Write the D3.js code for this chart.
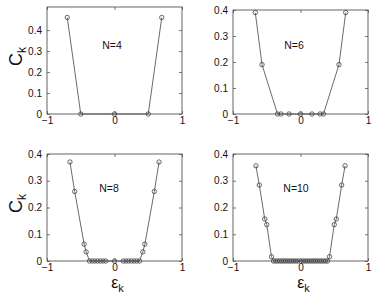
<!DOCTYPE html>
<html lang="en">
<head>
<meta charset="UTF-8">
<title>C_k vs epsilon_k</title>
<script src="https://cdn.jsdelivr.net/npm/d3@7"></script>
<style>
    html, body { margin: 0; padding: 0; background: #fff; }
    svg { display: block; font-family: 'Liberation Sans', Arial, sans-serif; }
</style>
</head>
<body>
<div id="chart"></div>
<script>
    // data
    const epsN4 = [-0.70, -0.50, 0, 0.50, 0.70];
    const ckN4 = [0.46, 0, 0, 0, 0.46];

    const epsN6 = [-0.67, -0.57, -0.34, -0.29, -0.17, 0, 0.17, 0.29, 0.34, 0.57, 0.67];
    const ckN6 = [0.39, 0.19, 0, 0, 0, 0, 0, 0, 0, 0.19, 0.39];

    const epsN8 = [-0.66, -0.59, -0.45, -0.42, -0.37, -0.33, -0.29, -0.25, -0.21, -0.17, -0.13, 0,
                   0.13, 0.17, 0.21, 0.25, 0.29, 0.33, 0.37, 0.42, 0.45, 0.59, 0.66];
    const ckN8 = [0.37, 0.26, 0.063, 0.034, 0, 0, 0, 0, 0, 0, 0, 0,
                  0, 0, 0, 0, 0, 0, 0, 0.034, 0.063, 0.26, 0.37];

    const epsN10 = [-0.66, -0.61, -0.53, -0.50, -0.43, -0.40, -0.37, -0.34, -0.31, -0.28, -0.25, -0.22,
                    -0.19, -0.16, -0.13, -0.10, -0.07, -0.04, 0, 0.04, 0.07, 0.10, 0.13, 0.16, 0.19,
                    0.22, 0.25, 0.28, 0.31, 0.34, 0.37, 0.40, 0.43, 0.50, 0.53, 0.61, 0.66];
    const ckN10 = [0.356, 0.284, 0.157, 0.136, 0.016, 0, 0, 0, 0, 0, 0, 0,
                   0, 0, 0, 0, 0, 0, 0, 0, 0, 0, 0, 0, 0,
                   0, 0, 0, 0, 0, 0, 0, 0.016, 0.136, 0.157, 0.284, 0.356];

    const xTicks = [-1, 0, 1];
    const yTicks = [0, 0.1, 0.2, 0.3, 0.4];

    const panels = [
        {eps: epsN4, ck: ckN4, label: "N=4", box: [47, 182, 7, 114], ymax: 0.51, lab: [112, 46], ylab: true, xlab: false},
        {eps: epsN6, ck: ckN6, label: "N=6", box: [233, 368, 10, 114], ymax: 0.4, lab: [294, 46], ylab: false, xlab: false},
        {eps: epsN8, ck: ckN8, label: "N=8", box: [47, 182, 154, 261], ymax: 0.4, lab: [109, 189], ylab: true, xlab: true},
        {eps: epsN10, ck: ckN10, label: "N=10", box: [233, 368, 154, 261], ymax: 0.4, lab: [296, 189], ylab: false, xlab: true}
    ];

    const svg = d3.select("#chart").append("svg")
        .attr("width", 374)
        .attr("height", 296);

    const fmt = d => d === 0 ? "0" : (d < 0 ? "\u2212" + Math.abs(d) : String(d));

    panels.forEach(p => {
        const [x0, x1, y0, y1] = p.box;
        const x = d3.scaleLinear().domain([-1, 1]).range([x0, x1]);
        const y = d3.scaleLinear().domain([0, p.ymax]).range([y1, y0]);
        const g = svg.append("g");

        // ticks on all four sides, pointing inward
        const axes = [
            [d3.axisBottom(x).tickValues(xTicks).tickFormat(fmt), `translate(0,${y1})`, 3],
            [d3.axisTop(x).tickValues(xTicks).tickFormat(""), `translate(0,${y0})`, 0],
            [d3.axisLeft(y).tickValues(yTicks).tickFormat(d3.format("")), `translate(${x0},0)`, 5],
            [d3.axisRight(y).tickValues(yTicks).tickFormat(""), `translate(${x1},0)`, 0]
        ];
        axes.forEach(([ax, tr, pad]) => {
            const a = g.append("g")
                .attr("transform", tr)
                .call(ax.tickSizeInner(-3).tickSizeOuter(0).tickPadding(pad));
            a.select(".domain").remove();
            a.selectAll("line").attr("stroke", "#555").attr("stroke-width", 0.8);
            a.selectAll("text").attr("fill", "#111").style("font-size", "10px");
        });

        g.append("rect")
            .attr("x", x0).attr("y", y0)
            .attr("width", x1 - x0).attr("height", y1 - y0)
            .attr("fill", "none").attr("stroke", "#555").attr("stroke-width", 0.9);

        const pts = p.eps.map((e, i) => [e, p.ck[i]]);

        g.append("path")
            .datum(pts)
            .attr("fill", "none")
            .attr("stroke", "#444")
            .attr("stroke-width", 0.8)
            .attr("d", d3.line().x(d => x(d[0])).y(d => y(d[1])));

        g.selectAll("circle")
            .data(pts).enter()
            .append("circle")
            .attr("cx", d => x(d[0]))
            .attr("cy", d => y(d[1]))
            .attr("r", 2.2)
            .attr("fill", "none")
            .attr("stroke", "#444")
            .attr("stroke-width", 0.8);

        g.append("text")
            .attr("x", p.lab[0]).attr("y", p.lab[1])
            .attr("text-anchor", "middle")
            .attr("dominant-baseline", "middle")
            .style("font-size", "10.5px")
            .attr("fill", "#111")
            .text(p.label);

        if (p.ylab) {
            const t = g.append("text")
                .attr("transform", `translate(22,${(y0 + y1) / 2 - 4}) rotate(-90)`)
                .attr("text-anchor", "middle")
                .attr("fill", "#111")
                .style("font-size", "18px");
            t.append("tspan").text("C");
            t.append("tspan").attr("dy", 4).style("font-size", "12px").text("k");
        }
        if (p.xlab) {
            const t = g.append("text")
                .attr("x", x(0) + 3).attr("y", 288)
                .attr("text-anchor", "middle")
                .attr("fill", "#111")
                .style("font-size", "16px");
            t.append("tspan").text("\u03b5");
            t.append("tspan").attr("dy", 4).style("font-size", "11px").text("k");
        }
    });
</script>
</body>
</html>
